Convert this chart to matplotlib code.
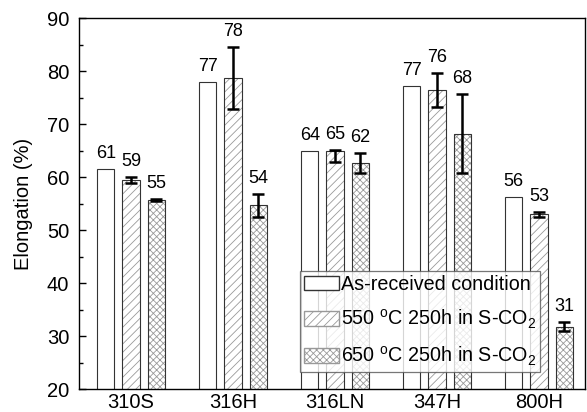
import matplotlib.pyplot as plt
import numpy as np
from matplotlib.patches import Patch

plt.rcParams['font.family'] = ['Liberation Sans', 'DejaVu Sans']
plt.rcParams['mathtext.fontset'] = 'custom'
plt.rcParams['mathtext.rm'] = 'Liberation Sans'
plt.rcParams['mathtext.it'] = 'Liberation Sans:italic'
plt.rcParams['hatch.linewidth'] = 0.6

# steel grades on the x axis
steels = ['310S', '316H', '316LN', '347H', '800H']

# elongation (%) for each condition
as_received = [61.5, 77.9, 64.9, 77.2, 56.2]
t550 = [59.4, 78.7, 65.0, 76.5, 53.0]
t650 = [55.7, 54.7, 62.6, 68.2, 31.8]

# error bars (lower, upper)
err550_lo = [0.6, 5.8, 2.2, 3.2, 0.5]
err550_hi = [0.6, 5.8, 0.1, 3.2, 0.5]
err650 = [0.2, 2.2, 1.9, 7.5, 0.8]

# numbers printed above the bars
lbl_as = ['61', '77', '64', '77', '56']
lbl_550 = ['59', '78', '65', '76', '53']
lbl_650 = ['55', '54', '62', '68', '31']

series_labels = ['As-received condition',
                 '550 $^{\\mathrm{o}}$C 250h in S-CO$_2$',
                 '650 $^{\\mathrm{o}}$C 250h in S-CO$_2$']

fig = plt.figure(figsize=(5.87, 4.12), dpi=100)
ax = fig.add_axes([0.1346, 0.0558, 0.862, 0.9])

x = np.arange(1, len(steels) + 1)
w = 0.17
step = 0.248
edge = '#333333'
hatch_col = '#999999'

# as-received: plain white bars
ax.bar(x - step, as_received, w, color='white', edgecolor=edge, linewidth=0.8)

# hatched bars: hatch in gray first, outline in dark on top
ax.bar(x, t550, w, color='white', edgecolor=hatch_col, hatch='////', linewidth=0)
ax.bar(x, t550, w, fill=False, edgecolor=edge, linewidth=0.8)
ax.bar(x + step, t650, w, color='white', edgecolor=hatch_col, hatch='xxxxx', linewidth=0)
ax.bar(x + step, t650, w, fill=False, edgecolor=edge, linewidth=0.8)

ax.errorbar(x, t550, yerr=[err550_lo, err550_hi], fmt='none', ecolor='black',
            elinewidth=1.8, capsize=4, capthick=1.8)
ax.errorbar(x + step, t650, yerr=err650, fmt='none', ecolor='black',
            elinewidth=1.8, capsize=4, capthick=1.8)

# value labels
for i in range(len(steels)):
    ax.annotate(lbl_as[i], (x[i] - step, as_received[i]), xytext=(0, 5),
                textcoords='offset points', ha='center', va='bottom', fontsize=13)
    ax.annotate(lbl_550[i], (x[i], t550[i] + err550_hi[i]), xytext=(0, 5),
                textcoords='offset points', ha='center', va='bottom', fontsize=13)
    ax.annotate(lbl_650[i], (x[i] + step, t650[i] + err650[i]), xytext=(0, 5),
                textcoords='offset points', ha='center', va='bottom', fontsize=13)

ax.set_xlim(0.49, 5.45)
ax.set_ylim(20, 90)
ax.set_xticks(x)
ax.set_xticklabels(steels)
ax.set_yticks(np.arange(20, 91, 10))
ax.set_yticks(np.arange(25, 90, 10), minor=True)
ax.tick_params(axis='y', which='major', direction='in', length=5, width=1, labelsize=14.5, pad=7)
ax.tick_params(axis='y', which='minor', direction='in', length=3, width=1)
ax.tick_params(axis='x', length=0, labelsize=14.5, pad=3)
ax.set_ylabel('Elongation (%)', fontsize=14.5, labelpad=10)
for s in ax.spines.values():
    s.set_linewidth(1.0)

# legend proxies
handles = [Patch(facecolor='white', edgecolor=edge),
           Patch(facecolor='white', edgecolor=hatch_col, hatch='////'),
           Patch(facecolor='white', edgecolor=hatch_col, hatch='xxxxx')]
leg = ax.legend(handles, series_labels, loc='lower left', bbox_to_anchor=(0.437, 0.046),
                fontsize=14.2, frameon=True, fancybox=False, edgecolor='#555555',
                handlelength=1.75, handleheight=0.75, handletextpad=0.1,
                labelspacing=0.7, borderpad=0.2, borderaxespad=0)
leg.get_frame().set_linewidth(0.9)

fig.savefig('out.png', dpi=100)
